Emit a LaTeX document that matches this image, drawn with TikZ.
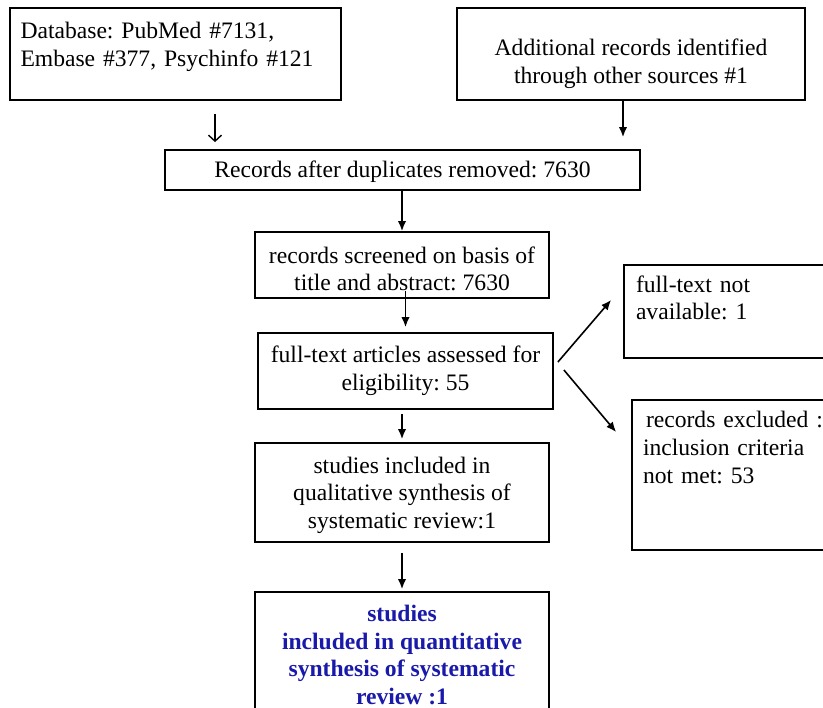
\documentclass[tikz,border=0pt]{standalone}
\usepackage{fontspec}
\setmainfont{Liberation Serif}
\usepackage{xcolor}
\usetikzlibrary{calc,arrows.meta}
\definecolor{reviewblue}{RGB}{25,25,170}
\frenchspacing

\begin{document}
\begin{tikzpicture}[x=0.5pt,y=-0.5pt]
  \tikzset{flowbox/.style={draw=black,line width=0.9pt,rectangle,inner sep=0pt,font=\fontsize{11.8}{13.8}\selectfont,align=center}}
  \tikzset{flowarrow/.style={draw=black,line width=0.8pt,-{Latex[length=5pt,width=4.2pt]}}}
  \tikzset{openarrow/.style={draw=black,line width=0.7pt,-{Straight Barb[length=3pt,width=6.5pt]}}}
  \clip (0,0) rectangle (823,707);
  \fill[white] (0,0) rectangle (823,707);
  \node[flowbox,minimum width=165.5pt,minimum height=46pt,text width=155pt,align=left] (db) at (175.5,54) {\rule{0pt}{12pt}Database: PubMed \#7131,\\Embase \#377, Psychinfo \#121\\ \mbox{}};
  \node[flowbox,minimum width=174pt,minimum height=46pt] (extra) at (631,54) {\rule{0pt}{18pt}Additional records identified\\through other sources \#1};
  \node[flowbox,minimum width=237.5pt,minimum height=20pt] (dup) at (402.5,170) {\rule{0pt}{10pt}Records after duplicates removed: 7630};
  \node[flowbox,minimum width=147pt,minimum height=33pt] (scr) at (402,265) {\rule{0pt}{12pt}records screened on basis of\\title and abstract: 7630};
  \node[flowbox,minimum width=147.5pt,minimum height=38pt] (full) at (405.5,371) {full-text articles assessed for\\eligibility: 55};
  \node[flowbox,minimum width=147pt,minimum height=49.5pt] (qual) at (402,492.5) {\rule{0pt}{11pt}studies included in\\qualitative synthesis of\\systematic review:1};
  \node[flowbox,minimum width=147pt,minimum height=63pt,text=reviewblue,font=\fontsize{11.8}{13.8}\selectfont\bfseries] (quant) at (402,655) {studies\\included in quantitative\\synthesis of systematic\\review :1};
  \node[flowbox,minimum width=120pt,minimum height=46.5pt,text width=108pt,align=left] (na) at (744,311.5) {full-text not\\available: 1\\ \mbox{}};
  \node[flowbox,minimum width=120pt,minimum height=75pt,text width=109pt,align=left] (excl) at (752,475) {\hspace{1.5pt}records excluded :\\inclusion criteria\\not met: 53\\ \mbox{}\\ \mbox{}};
  \coordinate (dbout) at ($(db.south)+(39.5,13)$);
  \coordinate (extraout) at ($(extra.south)+(-8,0)$);
  \draw[openarrow,shorten >=3.5pt] (dbout) -- (dbout |- dup.north);
  \draw[flowarrow,shorten >=6pt] (extraout) -- (extraout |- dup.north);
  \draw[flowarrow] (dup.south -| scr.north) -- (scr.north);
  \draw[flowarrow,shorten <=-4pt,shorten >=2.5pt] (scr.south -| full.north) -- (full.north);
  \draw[flowarrow,shorten <=2pt,shorten >=1.5pt] (full.south -| qual.north) -- (qual.north);
  \draw[flowarrow,shorten <=5pt,shorten >=1pt] (qual.south) -- (quant.north);
  \draw[flowarrow] ($(full.east)+(4,-9)$) -- ($(na.west)+(-12,-11.5)$);
  \draw[flowarrow] ($(full.east)+(10,-1)$) -- ($(excl.west)+(-15,-43)$);
\end{tikzpicture}
\end{document}
